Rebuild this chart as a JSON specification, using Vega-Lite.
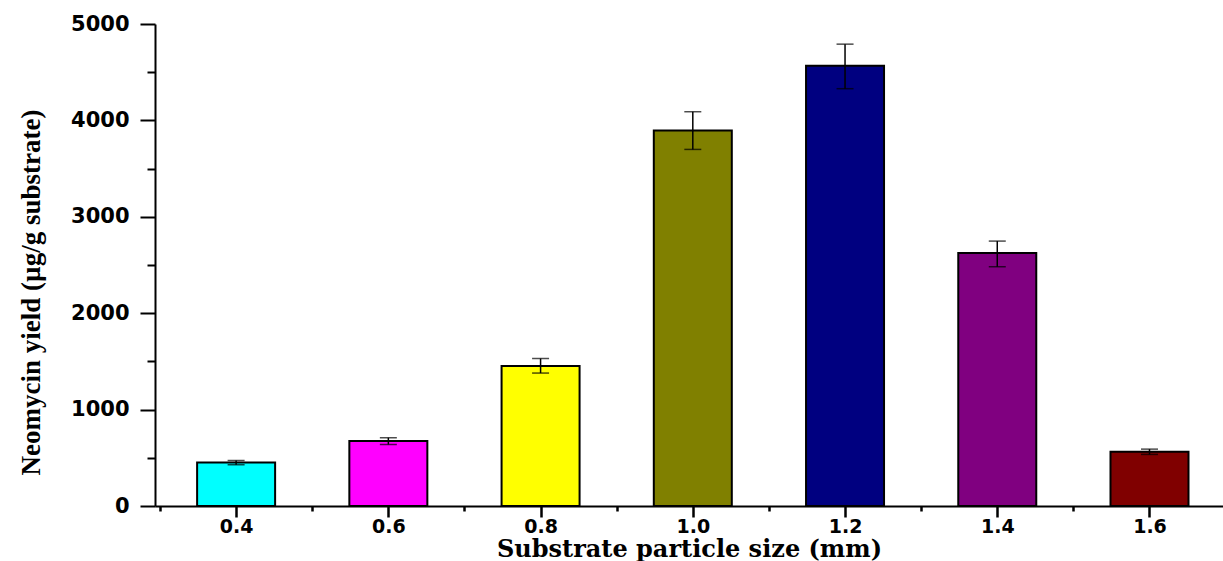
{
  "$schema": "https://vega.github.io/schema/vega-lite/v6.json",
  "autosize": "none",
  "width": 1068,
  "height": 482,
  "padding": {"left": 155, "top": 24, "right": 0, "bottom": 55},
  "background": "white",
  "config": {"view": {"stroke": null}},
  "data": {"values": [
    {"size": 0.4, "yield": 450, "lo": 428, "hi": 472, "color": "#00FFFF"},
    {"size": 0.6, "yield": 674, "lo": 638, "hi": 708, "color": "#FF00FF"},
    {"size": 0.8, "yield": 1451, "lo": 1379, "hi": 1530, "color": "#FFFF00"},
    {"size": 1.0, "yield": 3896, "lo": 3699, "hi": 4090, "color": "#808000"},
    {"size": 1.2, "yield": 4567, "lo": 4329, "hi": 4791, "color": "#000080"},
    {"size": 1.4, "yield": 2624, "lo": 2482, "hi": 2748, "color": "#800080"},
    {"size": 1.6, "yield": 563, "lo": 535, "hi": 590, "color": "#800000"}
  ]},
  "encoding": {
    "x": {
      "field": "size", "type": "quantitative",
      "scale": {"domain": [0.3, 1.69], "nice": false, "zero": false},
      "axis": {
        "title": "Substrate particle size (mm)",
        "titleFont": "DejaVu Serif", "titleFontWeight": "bold", "titleFontSize": 24, "titleColor": "black",
        "titleBaseline": "alphabetic", "titleY": 50,
        "values": [0.3, 0.4, 0.5, 0.6, 0.7, 0.8, 0.9, 1.0, 1.1, 1.2, 1.3, 1.4, 1.5, 1.6],
        "labelExpr": "round(datum.value*10) % 2 == 0 ? format(datum.value, '.1f') : ''",
        "labelFont": "DejaVu Sans", "labelFontWeight": "bold", "labelFontSize": 19, "labelColor": "black",
        "labelPadding": 0, "labelFlush": false, "labelOverlap": false,
        "tickSize": {"condition": {"test": "round(datum.value*10) % 2 == 0", "value": 11}, "value": 5},
        "tickColor": "black",
        "tickWidth": 2.5,
        "domainColor": "black", "domainWidth": 2, "grid": false
      }
    },
    "y": {
      "field": "yield", "type": "quantitative",
      "scale": {"domain": [0, 5000], "nice": false},
      "axis": {
        "title": "Neomycin yield (µg/g substrate)",
        "titleFont": "Liberation Serif", "titleFontWeight": "bold", "titleFontSize": 27, "titleColor": "black",
        "titleBaseline": "middle", "titleX": -124, "titleY": 268,
        "values": [0, 500, 1000, 1500, 2000, 2500, 3000, 3500, 4000, 4500, 5000],
        "labelExpr": "datum.value % 1000 == 0 ? datum.label : ''",
        "format": "d",
        "labelFont": "DejaVu Sans", "labelFontWeight": "bold", "labelFontSize": 21, "labelColor": "black",
        "labelPadding": 11, "labelOverlap": false,
        "tickSize": {"condition": {"test": "datum.value % 1000 == 0", "value": 15}, "value": 8},
        "tickWidth": 2, "tickColor": "black",
        "domainColor": "black", "domainWidth": 2, "grid": false
      }
    }
  },
  "layer": [
    {
      "mark": {"type": "bar", "size": 78, "stroke": "black", "strokeWidth": 2},
      "encoding": {
        "color": {"field": "color", "type": "nominal", "scale": null, "legend": null}
      }
    },
    {
      "mark": {"type": "rule", "color": "black", "strokeWidth": 1.5},
      "encoding": {"y": {"field": "lo", "type": "quantitative"}, "y2": {"field": "hi"}}
    },
    {
      "mark": {"type": "tick", "orient": "horizontal", "color": "black", "size": 17, "thickness": 1.5},
      "encoding": {"y": {"field": "lo", "type": "quantitative"}}
    },
    {
      "mark": {"type": "tick", "orient": "horizontal", "color": "black", "size": 17, "thickness": 1.5},
      "encoding": {"y": {"field": "hi", "type": "quantitative"}}
    }
  ]
}
